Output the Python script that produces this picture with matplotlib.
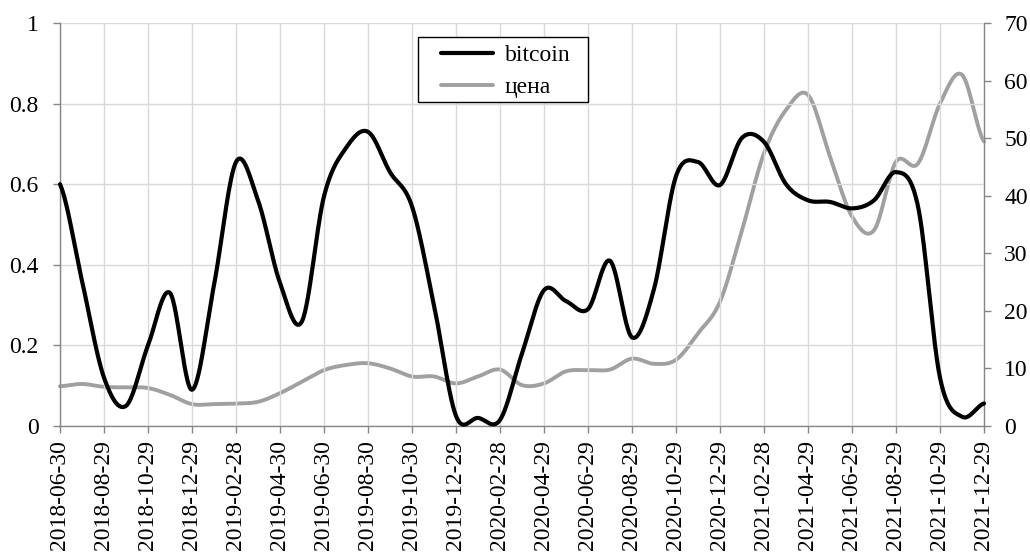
import numpy as np
import matplotlib
matplotlib.use("Agg")
import matplotlib.pyplot as plt
from matplotlib.patches import Rectangle
from matplotlib.lines import Line2D

plt.rcParams['font.family'] = ['Liberation Serif', 'DejaVu Serif']

# Monthly observations, 2018-06 .. 2021-12
bitcoin = [0.60, 0.36, 0.12, 0.05, 0.20, 0.33, 0.09, 0.35, 0.655, 0.56,
           0.355, 0.26, 0.57, 0.69, 0.73, 0.63, 0.545, 0.30, 0.025, 0.02,
           0.015, 0.18, 0.337, 0.31, 0.29, 0.41, 0.22, 0.34, 0.62, 0.655,
           0.598, 0.715, 0.705, 0.60, 0.56, 0.556, 0.54, 0.56, 0.63, 0.545,
           0.12, 0.023, 0.056]
price = [6.9, 7.3, 6.8, 6.7, 6.6, 5.4, 3.8, 3.8, 3.9, 4.2,
         5.7, 7.7, 9.7, 10.6, 10.9, 10.0, 8.6, 8.6, 7.4, 8.6,
         9.8, 7.1, 7.4, 9.5, 9.7, 9.8, 11.7, 10.8, 11.5, 16.1,
         21.6, 34.0, 47.4, 54.9, 57.5, 46.8, 36.4, 34.0, 45.9, 45.6,
         56.0, 61.0, 49.4]
tick_labels = ["2018-06-30", "2018-08-29", "2018-10-29", "2018-12-29",
               "2019-02-28", "2019-04-30", "2019-06-30", "2019-08-30",
               "2019-10-30", "2019-12-29", "2020-02-28", "2020-04-29",
               "2020-06-29", "2020-08-29", "2020-10-29", "2020-12-29",
               "2021-02-28", "2021-04-29", "2021-06-29", "2021-08-29",
               "2021-10-29", "2021-12-29"]
series_names = ["bitcoin", "цена"]
series_colors = ["black", "#a0a0a0"]


def smooth(y, n=30):
    """Catmull-Rom curve through equally spaced points."""
    y = np.asarray(y, float)
    p = np.concatenate([[y[0]], y, [y[-1]]])
    xs, ys = [], []
    t = np.linspace(0, 1, n, endpoint=False)
    for i in range(len(y) - 1):
        p0, p1, p2, p3 = p[i], p[i + 1], p[i + 2], p[i + 3]
        c1 = p1 + (p2 - p0) / 6
        c2 = p2 - (p3 - p1) / 6
        b = ((1 - t) ** 3 * p1 + 3 * (1 - t) ** 2 * t * c1
             + 3 * (1 - t) * t ** 2 * c2 + t ** 3 * p2)
        xs.append(i + t)
        ys.append(b)
    xs.append([len(y) - 1])
    ys.append([y[-1]])
    return np.concatenate(xs), np.concatenate(ys)


fs = 17
fig = plt.figure(figsize=(10.30, 5.53), dpi=100)
ax = fig.add_axes([60 / 1030, 127 / 553, 924 / 1030, 403 / 553])
ax2 = ax.twinx()

x = np.arange(len(bitcoin))
bx, by = smooth(bitcoin)
px, py = smooth(price)
ax.plot(bx, by, color=series_colors[0], lw=3.0, solid_capstyle="round",
        zorder=3, clip_on=False)
ax2.plot(px, py, color=series_colors[1], lw=2.8, solid_capstyle="round",
         zorder=2, clip_on=False)

ax.set_xlim(0, len(bitcoin) - 1)
ax.set_ylim(0, 1)
ax2.set_ylim(0, 70)
ax.set_zorder(ax2.get_zorder() + 1)
ax.patch.set_visible(False)

ax.set_xticks(x[::2])
ax.set_xticklabels(tick_labels, rotation=90, fontsize=fs)
ax.set_yticks(np.arange(0, 1.01, 0.2))
ax.set_yticklabels(["0", "0.2", "0.4", "0.6", "0.8", "1"], fontsize=fs)
ax2.set_yticks(np.arange(0, 71, 10))
ax2.tick_params(axis="y", labelsize=fs)

ax.grid(True, color="#d9d9d9", lw=1)
ax.set_axisbelow(True)

axis_col = "#868686"
for a in (ax, ax2):
    a.spines["top"].set_visible(False)
    for s in ("left", "right", "bottom"):
        a.spines[s].set_color(axis_col)
        a.spines[s].set_linewidth(1)
ax.spines["right"].set_visible(False)
ax2.spines["left"].set_visible(False)
ax2.spines["bottom"].set_visible(False)
ax.tick_params(axis="y", direction="out", length=5, color=axis_col,
               width=1, pad=10.5)
ax.tick_params(axis="x", direction="out", length=5, color=axis_col,
               width=1, pad=5)
ax2.tick_params(axis="y", direction="out", length=5, color=axis_col,
                width=1, pad=9.5)

# Legend box drawn in axes-fraction coordinates
def fx(px_):
    return (px_ - 60) / 924


def fy(py_):
    return (426 - py_) / 403


ax.add_patch(Rectangle((fx(418), fy(102)), fx(588) - fx(418),
                       fy(37) - fy(102), transform=ax.transAxes,
                       facecolor="white", edgecolor="black", lw=1,
                       zorder=10, clip_on=False))
for k, (name, col) in enumerate(zip(series_names, series_colors)):
    yc = 53 + 32 * k
    ax.add_line(Line2D([fx(441), fx(493)], [fy(yc), fy(yc)],
                       transform=ax.transAxes, color=col,
                       lw=3.0 if k == 0 else 2.8, solid_capstyle="round",
                       zorder=11, clip_on=False))
    ax.text(fx(505), fy(yc + 8), name, transform=ax.transAxes,
            fontsize=fs, va="baseline", ha="left", zorder=12)

fig.savefig("out.png", dpi=100)
